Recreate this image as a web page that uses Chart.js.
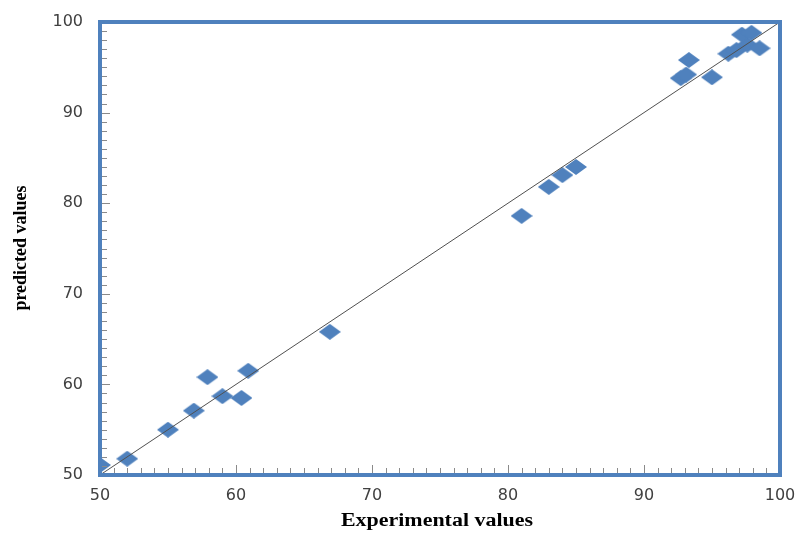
<!DOCTYPE html>
<html>
<head>
<meta charset="utf-8">
<script src="https://cdn.jsdelivr.net/npm/chart.js@4/dist/chart.umd.min.js"></script>
<style>
  html, body { margin: 0; padding: 0; background: #fff; }
</style>
</head>
<body>
<canvas id="chart" width="798" height="533"></canvas>
<script>
// Data
const experimental = [50.0, 52.0, 55.0, 56.9, 57.9, 59.0, 60.4, 60.9, 66.9, 81.0, 83.0, 84.0, 85.0,
                      92.7, 93.1, 93.3, 95.0, 96.2, 96.8, 97.6, 97.2, 97.9, 98.5];
const predicted    = [51.1, 51.8, 55.0, 57.1, 60.8, 58.7, 58.5, 61.5, 65.8, 78.6, 81.8, 83.1, 84.0,
                      93.8, 94.2, 95.8, 93.9, 96.5, 96.9, 97.5, 98.6, 98.8, 97.1];
const fitX = [50, 100];
const fitY = [50, 100];
const axisMin = 50;
const axisMax = 100;
const xTitle = 'Experimental values';
const yTitle = 'predicted values';

const blue = '#4F81BD';

// Flattened diamond marker
function makeDiamond(w, h) {
    const c = document.createElement('canvas');
    c.width = w; c.height = h;
    const g = c.getContext('2d');
    g.fillStyle = blue;
    g.beginPath();
    g.moveTo(w / 2, 0);
    g.lineTo(w, h / 2);
    g.lineTo(w / 2, h);
    g.lineTo(0, h / 2);
    g.closePath();
    g.fill();
    return c;
}
const diamond = makeDiamond(22, 16);

// Frame, inside ticks and axis titles
const framePlugin = {
    id: 'frame',
    afterDraw(chart) {
        const ctx = chart.ctx;
        const a = chart.chartArea;
        const xs = chart.scales.x, ys = chart.scales.y;
        ctx.save();

        // minor/major ticks pointing inward
        ctx.strokeStyle = '#8a8a8a';
        ctx.lineWidth = 1;
        for (let v = axisMin; v <= axisMax; v++) {
            const len = v % 10 === 0 ? 8 : 5;
            const py = Math.round(ys.getPixelForValue(v)) + 0.5;
            ctx.beginPath();
            ctx.moveTo(a.left, py);
            ctx.lineTo(a.left + 2 + len, py);
            ctx.stroke();
            const px = Math.round(xs.getPixelForValue(v)) + 0.5;
            ctx.beginPath();
            ctx.moveTo(px, a.bottom);
            ctx.lineTo(px, a.bottom - 2 - len);
            ctx.stroke();
        }

        // thick blue frame
        ctx.strokeStyle = blue;
        ctx.lineWidth = 4;
        ctx.strokeRect(a.left, a.top, a.right - a.left, a.bottom - a.top);

        // titles
        ctx.fillStyle = '#000';
        ctx.font = 'bold 18px "Liberation Serif", "Times New Roman", serif';
        ctx.textAlign = 'center';
        ctx.textBaseline = 'middle';
        ctx.save();
        ctx.translate(437, 521);
        ctx.scale(1.22, 1);
        ctx.fillText(xTitle, 0, 0);
        ctx.restore();

        ctx.save();
        ctx.translate(21, 248);
        ctx.rotate(-Math.PI / 2);
        ctx.fillText(yTitle, 0, 0);
        ctx.restore();

        ctx.restore();
    }
};

const tickFont = { family: '"DejaVu Sans", Verdana, sans-serif', size: 16 };

new Chart(document.getElementById('chart'), {
    type: 'scatter',
    data: {
        datasets: [{
            label: 'fit',
            type: 'line',
            data: fitX.map((x, i) => ({ x: x, y: fitY[i] })),
            borderColor: '#505050',
            borderWidth: 1,
            pointRadius: 0,
            fill: false,
            order: 0
        }, {
            label: 'points',
            data: experimental.map((x, i) => ({ x: x, y: predicted[i] })),
            pointStyle: diamond,
            backgroundColor: blue,
            borderColor: blue,
            order: 1
        }]
    },
    options: {
        responsive: false,
        animation: false,
        layout: { padding: { left: 0, right: 18, top: 22, bottom: 0 } },
        plugins: {
            legend: { display: false },
            tooltip: { enabled: false }
        },
        scales: {
            x: {
                type: 'linear',
                min: axisMin,
                max: axisMax,
                grid: { display: false, drawTicks: false },
                border: { display: false },
                ticks: { stepSize: 10, font: tickFont, color: '#404040', padding: 11, maxRotation: 0 },
                afterFit(s) { s.height = 58; s.paddingLeft = 0; s.paddingRight = 0; }
            },
            y: {
                type: 'linear',
                min: axisMin,
                max: axisMax,
                grid: { display: false, drawTicks: false },
                border: { display: false },
                ticks: { stepSize: 10, font: tickFont, color: '#404040', padding: 17 },
                afterFit(s) { s.width = 100; s.paddingTop = 0; s.paddingBottom = 0; }
            }
        }
    },
    plugins: [framePlugin]
});
</script>
</body>
</html>
